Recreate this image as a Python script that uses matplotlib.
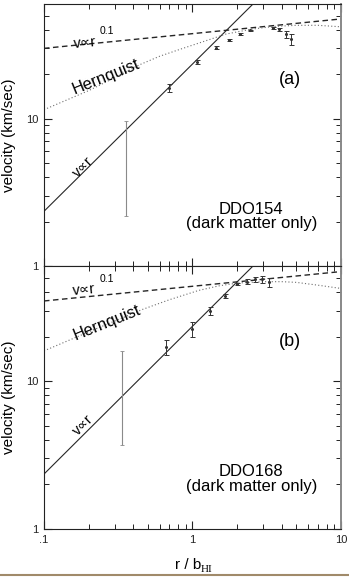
import numpy as np
import matplotlib
matplotlib.use('Agg')
import matplotlib.pyplot as plt
from matplotlib.ticker import LogLocator, FixedLocator, FixedFormatter, NullFormatter
from matplotlib.lines import Line2D

plt.rcParams['font.family'] = ['Liberation Sans', 'DejaVu Sans']

# ---- data ----
# DDO154 (panel a)
r_obs_a = [0.355, 0.70, 1.07, 1.43, 1.75, 2.10, 2.45, 3.46, 3.84, 4.26, 4.60]
v_obs_a = [5.9, 16.1, 24.4, 30.3, 34.1, 37.7, 39.7, 41.4, 40.4, 37.3, 34.6]
err_a = [3.7, 1.0, 0.8, 0.8, 0.5, 0.6, 0.5, 0.6, 0.8, 1.8, 2.9]

lin_r_a = [0.1, 2.6]
lin_v_a = [2.35, 61.0]
pow_r_a = [0.1, 10.0]
pow_v_a = [30.0, 47.5]
hern_r_a = [0.1, 0.2, 0.3, 0.44, 0.6, 0.82, 1.2, 1.68, 2.5, 3.5, 5.0, 7.0, 10.0]
hern_v_a = [11.5, 15.5, 19.0, 23.2, 26.5, 29.5, 33.5, 37.5, 40.5, 42.2, 43.0, 43.0, 42.0]

# DDO168 (panel b)
r_obs_b = [0.335, 0.666, 1.0, 1.32, 1.66, 2.0, 2.32, 2.64, 2.96, 3.29]
v_obs_b = [9.85, 17.0, 22.5, 29.7, 37.5, 45.4, 47.1, 48.8, 48.8, 46.5]
err_b = [6.15, 1.9, 2.5, 1.8, 1.0, 0.8, 2.0, 2.0, 2.5, 3.0]

lin_r_b = [0.1, 2.6]
lin_v_b = [2.35, 61.0]
pow_r_b = [0.1, 10.0]
pow_v_b = [34.8, 55.0]
hern_r_b = [0.1, 0.2, 0.3, 0.46, 0.7, 1.1, 1.5, 2.0, 3.0, 4.0, 5.0, 7.0, 10.0]
hern_v_b = [16.0, 21.5, 25.5, 30.5, 35.5, 41.0, 44.0, 46.0, 47.0, 47.0, 46.5, 44.5, 42.3]

x_ticks = [0.1, 1, 10]
x_ticklabels = ['.1', '1', '10']
y_ticks = [1, 10]
y_ticklabels = ['1', '10']

panels = [
    dict(r=r_obs_a, v=v_obs_a, e=err_a, lin=(lin_r_a, lin_v_a), pw=(pow_r_a, pow_v_a),
         hern=(hern_r_a, hern_v_a), tag='(a)', name='DDO154',
         pow_txt=(0.188, 32.7), sup_txt=(0.265, 39.3), hern_txt=(0.26, 19.2), lin_txt=(0.183, 4.7)),
    dict(r=r_obs_b, v=v_obs_b, e=err_b, lin=(lin_r_b, lin_v_b), pw=(pow_r_b, pow_v_b),
         hern=(hern_r_b, hern_v_b), tag='(b)', name='DDO168',
         pow_txt=(0.186, 41.2), sup_txt=(0.265, 48.9), hern_txt=(0.265, 24.7), lin_txt=(0.183, 5.0)),
]

line_col = '#262626'
dot_col = '#6e6e6e'

fig = plt.figure(figsize=(3.49, 5.79), dpi=100)
ax_a = fig.add_axes([0.126, 0.5406, 0.851, 0.4525])
ax_b = fig.add_axes([0.126, 0.0864, 0.851, 0.4542])
axes = [ax_a, ax_b]

for ax, p in zip(axes, panels):
    ax.set_xscale('log')
    ax.set_yscale('log')

    ax.plot(p['lin'][0], p['lin'][1], '-', color=line_col, lw=0.8)
    ax.plot(p['pw'][0], p['pw'][1], color=line_col, lw=1.0, linestyle=(0, (4, 2.5)))
    ax.plot(p['hern'][0], p['hern'][1], color=dot_col, lw=0.8, linestyle=(0, (1, 2)))

    # first point has the big (faint) error bar
    ax.errorbar(p['r'][:1], p['v'][:1], yerr=p['e'][:1], fmt='none', ecolor='#8a8a8a',
                elinewidth=0.8, capsize=1.5, capthick=0.6)
    ax.errorbar(p['r'][1:], p['v'][1:], yerr=p['e'][1:], fmt='o', ms=1.2, color='#333333',
                ecolor='#333333', elinewidth=0.7, capsize=1.8, capthick=0.7)

    ax.set_xlim(0.1, 10)
    ax.set_ylim(1, 60)

    ax.xaxis.set_major_locator(FixedLocator(x_ticks))
    ax.xaxis.set_minor_locator(LogLocator(base=10, subs=np.arange(2, 10)))
    ax.yaxis.set_major_locator(FixedLocator(y_ticks))
    ax.yaxis.set_major_formatter(FixedFormatter(y_ticklabels))
    ax.yaxis.set_minor_locator(LogLocator(base=10, subs=np.arange(2, 10)))
    ax.yaxis.set_minor_formatter(NullFormatter())
    ax.xaxis.set_minor_formatter(NullFormatter())

    ax.tick_params(which='both', direction='in', top=True, right=True, colors='#222222',
                   labelsize=8, pad=4)
    ax.tick_params(which='major', length=6, width=0.8)
    ax.tick_params(which='minor', length=3.5, width=0.7)

    for s in ['left', 'bottom', 'top']:
        ax.spines[s].set_linewidth(0.8)
        ax.spines[s].set_color('#222222')
    ax.spines['right'].set_color('#888888')
    ax.spines['right'].set_linewidth(1.4)

    ax.set_ylabel('velocity (km/sec)', fontsize=11)
    ax.yaxis.set_label_coords(-0.094, 0.5)

    # annotations
    ax.text(p['pow_txt'][0], p['pow_txt'][1], 'v\u221dr', fontsize=10.5, ha='center', va='center',
            rotation=5)
    ax.text(p['sup_txt'][0], p['sup_txt'][1], '0.1', fontsize=7.5, ha='center', va='center')
    ax.text(p['hern_txt'][0], p['hern_txt'][1], 'Hernquist', fontsize=12, ha='center',
            va='center', rotation=22)
    ax.text(p['lin_txt'][0], p['lin_txt'][1], 'v\u221dr', fontsize=10.5, ha='center',
            va='center', rotation=45)
    ax.text(4.55, 18.4, p['tag'], fontsize=13, ha='center', va='center')
    ax.text(2.49, 2.43, p['name'], fontsize=12, ha='center', va='center')
    ax.text(2.49, 1.93, '(dark matter only)', fontsize=12, ha='center', va='center')

ax_a.tick_params(axis='x', labelbottom=False)
ax_b.xaxis.set_major_formatter(FixedFormatter(x_ticklabels))

# x label: r/b with serif HI subscript
fig.text(188 / 349, 1 - 565 / 579, 'r / b', fontsize=11, ha='center', va='center')
fig.text(206 / 349, 1 - 570 / 579, 'HI', fontsize=8, ha='center', va='center',
         family=['Liberation Serif', 'DejaVu Serif'])

# brownish page edge at the bottom of the scan
fig.add_artist(Line2D([0, 1], [1 - 575 / 579, 1 - 575 / 579], color='#a08a6a', lw=1.5,
                      transform=fig.transFigure))

plt.savefig('out.png', dpi=100)
